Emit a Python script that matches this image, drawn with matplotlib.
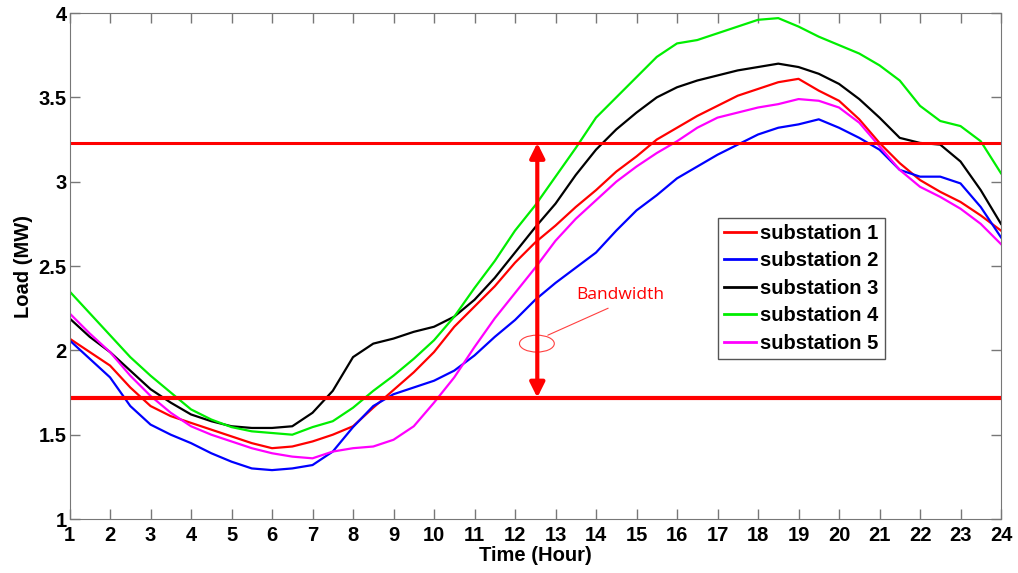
import matplotlib.pyplot as plt
from matplotlib.patches import Ellipse

plt.rcParams['font.family'] = ['Liberation Sans', 'DejaVu Sans']

# half-hour readings of the load curves (MW)
hours = [1 + 0.5 * i for i in range(47)]

sub1 = [2.07, 1.99, 1.91, 1.78, 1.67, 1.61, 1.57, 1.53, 1.49, 1.45, 1.42, 1.43, 1.46, 1.50,
        1.55, 1.66, 1.765, 1.87, 1.99, 2.14, 2.26, 2.38, 2.52, 2.64, 2.74, 2.85, 2.95, 3.06,
        3.15, 3.25, 3.32, 3.39, 3.45, 3.51, 3.55, 3.59, 3.61, 3.54, 3.48, 3.37, 3.23, 3.11,
        3.01, 2.94, 2.88, 2.80, 2.71]
sub2 = [2.06, 1.95, 1.84, 1.67, 1.56, 1.50, 1.45, 1.39, 1.34, 1.30, 1.29, 1.30, 1.32, 1.40,
        1.545, 1.67, 1.74, 1.78, 1.82, 1.88, 1.97, 2.08, 2.18, 2.30, 2.40, 2.49, 2.58, 2.71,
        2.83, 2.92, 3.02, 3.09, 3.16, 3.22, 3.28, 3.32, 3.34, 3.37, 3.32, 3.26, 3.19, 3.07,
        3.03, 3.03, 2.99, 2.85, 2.67]
sub3 = [2.19, 2.08, 1.99, 1.88, 1.77, 1.69, 1.62, 1.58, 1.55, 1.54, 1.54, 1.55, 1.63, 1.76,
        1.96, 2.04, 2.07, 2.11, 2.14, 2.20, 2.30, 2.43, 2.58, 2.73, 2.87, 3.04, 3.19, 3.31,
        3.41, 3.50, 3.56, 3.60, 3.63, 3.66, 3.68, 3.70, 3.68, 3.64, 3.58, 3.49, 3.38, 3.26,
        3.23, 3.22, 3.12, 2.95, 2.75]
sub4 = [2.35, 2.22, 2.09, 1.96, 1.85, 1.75, 1.65, 1.59, 1.545, 1.52, 1.51, 1.50, 1.545, 1.58,
        1.66, 1.76, 1.85, 1.95, 2.06, 2.20, 2.37, 2.53, 2.71, 2.86, 3.03, 3.20, 3.38, 3.50,
        3.62, 3.74, 3.82, 3.84, 3.88, 3.92, 3.96, 3.97, 3.92, 3.86, 3.81, 3.76, 3.69, 3.60,
        3.45, 3.36, 3.33, 3.24, 3.05]
sub5 = [2.22, 2.10, 1.99, 1.85, 1.73, 1.63, 1.55, 1.50, 1.46, 1.42, 1.39, 1.37, 1.36, 1.40,
        1.42, 1.43, 1.47, 1.55, 1.69, 1.84, 2.02, 2.19, 2.34, 2.49, 2.65, 2.78, 2.89, 3.00,
        3.09, 3.17, 3.24, 3.32, 3.38, 3.41, 3.44, 3.46, 3.49, 3.48, 3.44, 3.35, 3.21, 3.07,
        2.97, 2.91, 2.84, 2.75, 2.63]

labels = ['substation 1', 'substation 2', 'substation 3', 'substation 4', 'substation 5']
colors = ['#ff0000', '#0000ff', '#000000', '#00ee00', '#ff00ff']

band_low = 1.72
band_high = 3.23
arrow_hour = 12.55

fig = plt.figure(figsize=(10.18, 5.73), dpi=100)
ax = fig.add_axes([0.0683, 0.0942, 0.915, 0.883])

for series, name, col in zip([sub1, sub2, sub3, sub4, sub5], labels, colors):
    ax.plot(hours, series, color=col, lw=1.6, label=name)

ax.axhline(band_high, color='red', lw=2.2)
ax.axhline(band_low, color='red', lw=3)

# bandwidth arrow + callout
ax.annotate('', xy=(arrow_hour, band_high), xytext=(arrow_hour, band_low),
            arrowprops=dict(arrowstyle='<|-|>', color='red', lw=3, mutation_scale=22,
                            shrinkA=0, shrinkB=0))
ax.add_patch(Ellipse((12.54, 2.04), 0.86, 0.10, fill=False, ec='#ff4040', lw=0.8))
ax.annotate('', xy=(12.81, 2.09), xytext=(14.30, 2.25),
            arrowprops=dict(arrowstyle='-', color='#ff4040', lw=0.8, shrinkA=0, shrinkB=0))
ax.text(14.59, 2.33, 'Bandwidth', color='red', fontsize=12.5, ha='center', va='center',
        family=['Open Sans', 'DejaVu Sans'])

ax.set_xlim(1, 24)
ax.set_ylim(1, 4)
ax.set_xticks(range(1, 25))
ax.set_yticks([1, 1.5, 2, 2.5, 3, 3.5, 4])
ax.set_yticklabels(['1', '1.5', '2', '2.5', '3', '3.5', '4'])
ax.tick_params(direction='in', top=True, right=True, length=7, width=1, color='#777777',
               labelsize=14.5)
ax.tick_params(axis='x', pad=5)
ax.tick_params(axis='y', pad=2)
for lab in ax.get_xticklabels() + ax.get_yticklabels():
    lab.set_fontweight('bold')
for sp in ax.spines.values():
    sp.set_color('#777777')

ax.set_xlabel('Time (Hour)', fontsize=14.5, fontweight='bold', labelpad=1)
ax.set_ylabel('Load (MW)', fontsize=14.5, fontweight='bold', labelpad=4)

leg = ax.legend(loc='upper left', bbox_to_anchor=(0.696, 0.595), borderaxespad=0,
                fancybox=False, framealpha=1, edgecolor='#555555',
                prop={'weight': 'bold', 'size': 14.5},
                handlelength=1.6, handletextpad=0.2, borderpad=0.3, labelspacing=0.42)
for line in leg.get_lines():
    line.set_linewidth(2)

fig.savefig('out.png', dpi=100)
